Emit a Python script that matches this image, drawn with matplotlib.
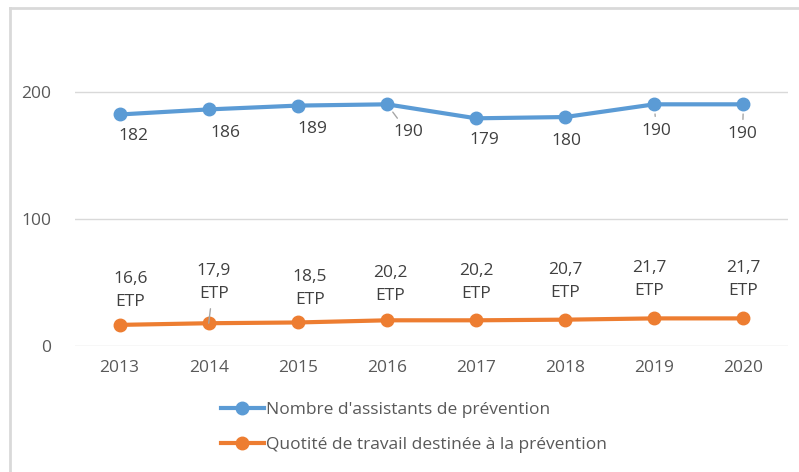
import matplotlib.pyplot as plt
from matplotlib.lines import Line2D

# Données
annees = ['2013', '2014', '2015', '2016', '2017', '2018', '2019', '2020']
assistants = [182, 186, 189, 190, 179, 180, 190, 190]
quotite = [16.6, 17.9, 18.5, 20.2, 20.2, 20.7, 21.7, 21.7]

nom_assistants = "Nombre d'assistants de prévention"
nom_quotite = "Quotité de travail destinée à la prévention"

bleu = '#5B9BD5'
orange = '#ED7D31'
gris_texte = '#595959'
gris_grille = '#D9D9D9'
taille = 12.5

plt.rcParams['font.family'] = ['Open Sans', 'DejaVu Sans']

fig = plt.figure(figsize=(7.99, 4.72), dpi=100)
W, H = 799, 472
ax = fig.add_axes([75 / W, 1 - 346 / H, (788 - 75) / W, (346 - 28) / H])

x = list(range(len(annees)))
ax.plot(x, assistants, color=bleu, lw=3, marker='o', ms=9, solid_capstyle='round', zorder=3)
ax.plot(x, quotite, color=orange, lw=3, marker='o', ms=9, solid_capstyle='round', zorder=3)

ax.set_xlim(-0.5, len(annees) - 0.5)
ax.set_ylim(0, 250)
ax.set_yticks([0, 100, 200])
ax.set_xticks(x)
ax.set_xticklabels(annees)
ax.tick_params(length=0, labelsize=taille, colors=gris_texte, pad=10)
ax.tick_params(axis='y', pad=17)
ax.grid(axis='y', color=gris_grille, lw=1)
ax.set_axisbelow(True)
for s in ax.spines.values():
    s.set_visible(False)

# Étiquettes des assistants (décalage en pixels, trait de rappel éventuel)
dec_bleu = [(14, -22), (17, -24), (15, -23), (21, -28), (8, -22), (1, -24), (2, -27), (-1, -30)]
trait_bleu = [False, False, False, True, False, False, True, True]
for i, v in enumerate(assistants):
    dx, dy = dec_bleu[i]
    ap = dict(arrowstyle='-', color='#A6A6A6', lw=1, shrinkA=3, shrinkB=7) if trait_bleu[i] else None
    ax.annotate(str(v), (i, v), xytext=(dx, dy), textcoords='offset pixels',
                ha='center', va='center', fontsize=taille, color='#404040', arrowprops=ap)

# Étiquettes des ETP
dec_orange = [(11, 34), (5, 41), (12, 34), (3, 36), (0, 38), (0, 38), (-5, 39), (0, 39)]
trait_orange = [False, True, False, False, False, False, False, False]
for i, v in enumerate(quotite):
    dx, dy = dec_orange[i]
    txt = f"{v:.1f}".replace('.', ',') + "\nETP"
    ap = dict(arrowstyle='-', color='#A6A6A6', lw=1, shrinkA=3, shrinkB=22) if trait_orange[i] else None
    ax.annotate(txt, (i, v), xytext=(dx, dy), textcoords='offset pixels',
                ha='center', va='center', fontsize=taille, color='#404040',
                linespacing=1.6, arrowprops=ap)

# Légende
poignees = [Line2D([], [], color=bleu, lw=3, marker='o', ms=9),
            Line2D([], [], color=orange, lw=3, marker='o', ms=9)]
fig.legend(poignees, [nom_assistants, nom_quotite], loc='upper left',
           bbox_to_anchor=(212 / W, 1 - 393 / H), frameon=False, fontsize=taille,
           labelcolor=gris_texte, handlelength=2.5, handletextpad=0.1,
           labelspacing=1.1, borderpad=0)

# Cadre
fig.add_artist(Line2D([10 / W, 1], [1 - 8 / H, 1 - 8 / H], color=gris_grille, lw=2))
fig.add_artist(Line2D([10 / W, 10 / W], [1 - 8 / H, 0], color=gris_grille, lw=2))

fig.savefig('out.png', dpi=100)
